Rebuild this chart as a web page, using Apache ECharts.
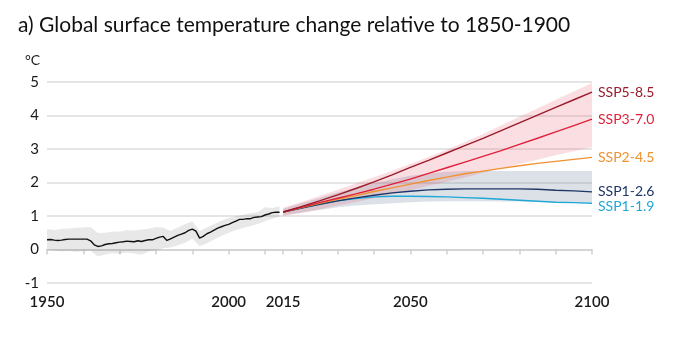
<!DOCTYPE html>
<html><head><meta charset="utf-8">
<script src="https://cdn.jsdelivr.net/npm/echarts@6/dist/echarts.min.js"></script>
<style>html,body{margin:0;padding:0;background:#fff}#c{width:678px;height:340px}</style>
</head><body><div id="c"></div>
<script>
// ---- data ----
const histYears = [];
for (let y = 1950; y <= 2014; y++) histYears.push(y);
const histValues = [0.29,0.30,0.28,0.27,0.28,0.30,0.31,0.31,0.31,0.31,0.31,0.31,0.26,0.14,0.09,0.11,0.15,0.17,0.18,0.20,
  0.22,0.23,0.25,0.24,0.23,0.26,0.24,0.27,0.29,0.29,0.33,0.37,0.39,0.27,0.32,0.37,0.42,0.46,0.50,0.57,
  0.61,0.55,0.34,0.39,0.47,0.52,0.58,0.64,0.68,0.72,0.75,0.80,0.85,0.90,0.90,0.92,0.92,0.96,0.97,0.98,
  1.03,1.06,1.10,1.11,1.11];
const histBandYears = [1950,1952,1954,1956,1958,1960,1962,1964,1966,1968,1970,1972,1974,1976,1978,1980,1982,1984,1986,1988,1990,1992,1994,1996,1998,2000,2002,2004,2006,2008,2010,2012,2014];
const histBandLow  = [-0.01,-0.03,-0.06,-0.04,-0.07,-0.05,-0.04,-0.21,-0.15,-0.11,-0.13,-0.09,-0.12,-0.16,-0.06,-0.03,0.04,0.06,0.13,0.20,0.32,0.10,0.18,0.30,0.40,0.50,0.58,0.64,0.70,0.76,0.84,0.92,0.98];
const histBandHigh = [0.61,0.58,0.62,0.63,0.65,0.66,0.67,0.49,0.50,0.54,0.53,0.58,0.57,0.60,0.62,0.67,0.66,0.55,0.66,0.76,0.84,0.55,0.66,0.76,0.86,0.94,0.99,1.04,1.08,1.12,1.26,1.24,1.29];

const projYears = [2015,2020,2025,2030,2035,2040,2045,2050,2055,2060,2065,2070,2075,2080,2085,2090,2095,2100];
const ssp585 = [1.12,1.28,1.45,1.63,1.82,2.02,2.23,2.45,2.66,2.88,3.10,3.32,3.55,3.78,4.01,4.24,4.47,4.70];
const ssp370 = [1.12,1.26,1.40,1.53,1.66,1.80,1.95,2.10,2.27,2.44,2.61,2.78,2.95,3.14,3.32,3.51,3.70,3.89];
const ssp245 = [1.12,1.25,1.38,1.50,1.61,1.73,1.84,1.95,2.06,2.16,2.26,2.34,2.42,2.50,2.57,2.63,2.69,2.75];
const ssp126 = [1.12,1.24,1.35,1.45,1.54,1.62,1.69,1.74,1.78,1.80,1.81,1.81,1.81,1.81,1.80,1.77,1.75,1.72];
const ssp119 = [1.12,1.24,1.35,1.45,1.52,1.57,1.59,1.59,1.58,1.57,1.55,1.53,1.50,1.47,1.44,1.41,1.40,1.38];
const ssp126Low  = [1.02,1.10,1.18,1.26,1.31,1.35,1.38,1.41,1.43,1.44,1.44,1.44,1.43,1.43,1.42,1.42,1.41,1.41];
const ssp126High = [1.22,1.38,1.54,1.70,1.85,1.98,2.10,2.20,2.27,2.32,2.34,2.34,2.34,2.34,2.34,2.34,2.34,2.34];
const ssp370Low  = [1.00,1.10,1.20,1.31,1.42,1.53,1.65,1.77,1.90,2.02,2.15,2.29,2.42,2.55,2.68,2.81,2.93,3.05];
const ssp370High = [1.25,1.42,1.60,1.78,1.97,2.16,2.35,2.55,2.76,2.98,3.21,3.45,3.70,3.96,4.21,4.47,4.72,4.97];

const xLabelValues = [1950,2000,2015,2050,2100];
const xTickValues = [1950,1960,1970,1980,1990,2000,2010,2015,2020,2030,2040,2050,2060,2070,2080,2090,2100];

const FONT = 'Lato, "Noto Sans", sans-serif';
const zip = (xs, ys) => xs.map((x, i) => [x, ys[i]]);

function band(xs, lo, hi, color) {
  return { type:'custom', silent:true, z:1,
    data: xs.map((x,i)=>[x, lo[i], hi[i]]),
    encode:{x:0, y:[1,2]},
    renderItem:function(params, api){
      if (params.dataIndex !== 0) return null;
      const top = xs.map((x,i)=>api.coord([x, hi[i]]));
      const bot = xs.map((x,i)=>api.coord([x, lo[i]])).reverse();
      return { type:'polygon', shape:{points: top.concat(bot)}, style:{fill:color} };
    } };
}
function proj(name, vals, color, offY) {
  return { type:'line', name, data: zip(projYears, vals), symbol:'none', z:3,
    lineStyle:{color, width:1.4},
    endLabel:{show:true, formatter:name, color, fontFamily:FONT, fontSize:14, distance:6, offset:[0, offY||0]} };
}

const chart = echarts.init(document.getElementById('c'), null, {renderer:'canvas'});
chart.setOption({
  animation:false,
  grid:{left:47, right:86, top:82, bottom:57},
  graphic:[
    {type:'text', left:18, top:15, style:{text:'a) Global surface temperature change relative to 1850-1900', font:'21px '+FONT, fill:'#111'}},
    {type:'text', left:25, top:53, style:{text:'°C', font:'14px '+FONT, fill:'#222'}}
  ],
  xAxis:{type:'value', min:1950, max:2100, interval:10,
    axisLine:{lineStyle:{color:'#cfcfcf', width:1.5}},
    axisTick:{show:true, length:5, lineStyle:{color:'#cfcfcf', width:1.5}, customValues:xTickValues},
    axisLabel:{customValues:xLabelValues, formatter:v=>String(v), color:'#1a1a1a', fontFamily:FONT, fontSize:15, margin:12, fontWeight:600},
    splitLine:{show:false}},
  yAxis:{type:'value', min:-1, max:5, interval:1,
    axisLine:{show:false}, axisTick:{show:false},
    axisLabel:{color:'#1a1a1a', fontFamily:FONT, fontSize:15, margin:8},
    splitLine:{lineStyle:{color:'#dcdcdc', width:1.5}}},
  series:[
    band(histBandYears, histBandLow, histBandHigh, 'rgba(0,0,0,0.09)'),
    band(projYears, ssp126Low, ssp126High, 'rgba(70,90,125,0.19)'),
    band(projYears, ssp370Low, ssp370High, 'rgba(225,60,85,0.17)'),
    { type:'line', data: zip(histYears, histValues), symbol:'none', z:3, lineStyle:{color:'#111', width:1.4} },
    proj('SSP1-1.9', ssp119, '#1fa8d6', 3),
    proj('SSP1-2.6', ssp126, '#1e3766', 0),
    proj('SSP2-4.5', ssp245, '#ef9231', 0),
    proj('SSP3-7.0', ssp370, '#e0213b', 0),
    proj('SSP5-8.5', ssp585, '#9a1b2b', 0)
  ]
});
</script></body></html>
